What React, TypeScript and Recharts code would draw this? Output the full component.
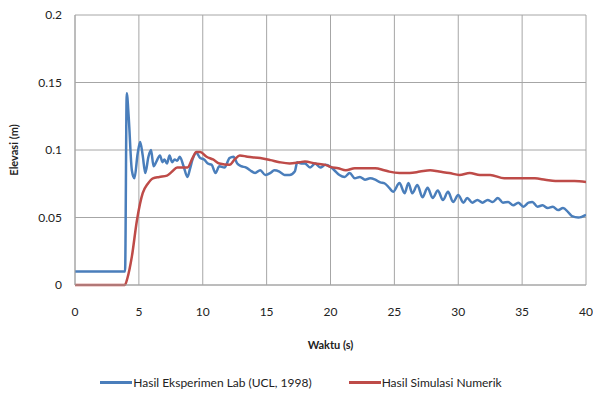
import React from "react";
import { CartesianGrid, Legend, Line, LineChart, XAxis, YAxis } from "recharts";

// Hasil Eksperimen Lab (UCL, 1998) — [waktu (s), elevasi (m)]
const LAB_TIME = [
  0, 3.92, 4.05, 4.2, 4.45, 4.65, 4.9, 5.1, 5.3, 5.5, 5.75, 5.95, 6.15, 6.4, 6.65, 6.85, 7.0, 7.2, 7.4, 7.6,
  7.8, 8.0, 8.2, 8.5, 8.8, 9.0, 9.2, 9.5, 9.8, 10.1, 10.4, 10.7, 11.0, 11.3, 11.7, 12.1, 12.4, 12.7, 13.0, 13.4,
  13.7, 14.1, 14.5, 14.9, 15.3, 15.6, 16.0, 16.4, 16.8, 17.2, 17.4, 17.7, 18.0, 18.4, 18.8, 19.2, 19.6, 20.0, 20.3, 20.7,
  21.1, 21.5, 21.9, 22.3, 22.7, 23.1, 23.5, 23.9, 24.2, 24.6, 24.9, 25.4, 25.8, 26.1, 26.4, 26.8, 27.2, 27.6, 28.0, 28.4,
  28.8, 29.2, 29.6, 30.0, 30.4, 30.7, 31.1, 31.5, 31.9, 32.3, 32.7, 33.1, 33.5, 33.9, 34.3, 34.7, 35.1, 35.5, 35.8, 36.2,
  36.6, 37.0, 37.4, 37.8, 38.2, 38.6, 38.9, 39.4, 40,
];
const LAB_ELEV = [
  0.01, 0.01, 0.142, 0.125, 0.085, 0.079, 0.097, 0.106, 0.096, 0.083, 0.095, 0.1, 0.088, 0.092, 0.096, 0.091, 0.093, 0.09, 0.096, 0.091,
  0.093, 0.092, 0.095, 0.088, 0.08, 0.086, 0.093, 0.098, 0.094, 0.093, 0.09, 0.089, 0.083, 0.088, 0.087, 0.094, 0.095, 0.09, 0.088, 0.087,
  0.085, 0.083, 0.085, 0.0815, 0.083, 0.085, 0.084, 0.0815, 0.0815, 0.084, 0.091, 0.09, 0.09, 0.087, 0.09, 0.087, 0.089, 0.0875, 0.085, 0.0815,
  0.08, 0.083, 0.079, 0.08, 0.078, 0.079, 0.078, 0.076, 0.0755, 0.072, 0.069, 0.0755, 0.068, 0.0755, 0.068, 0.074, 0.065, 0.072, 0.0645, 0.07,
  0.063, 0.069, 0.0615, 0.0667, 0.061, 0.0645, 0.061, 0.063, 0.061, 0.063, 0.0615, 0.0645, 0.061, 0.0615, 0.059, 0.061, 0.058, 0.061, 0.0615, 0.058,
  0.059, 0.057, 0.058, 0.0555, 0.057, 0.054, 0.051, 0.05, 0.052,
];

// Hasil Simulasi Numerik
const SIM_TIME = [
  0, 3.9, 4.1, 4.45, 4.85, 5.3, 5.7, 6.1, 6.6, 7.2, 7.6, 8.0, 8.8, 9.2, 9.5, 9.8, 10.3, 10.8, 11.3, 12.1,
  12.5, 12.9, 13.5, 14.5, 15.3, 16.0, 16.8, 17.6, 18.0, 18.8, 19.6, 20.0, 20.6, 21.2, 21.9, 22.7, 23.5, 24.2, 24.6, 25.4,
  26.2, 27.0, 27.8, 28.5, 29.3, 30.1, 30.9, 31.7, 32.5, 33.6, 35.0, 36.0, 36.8, 37.6, 39.1, 40,
];
const SIM_ELEV = [
  0, 0, 0.005, 0.021, 0.048, 0.068, 0.075, 0.079, 0.08, 0.081, 0.084, 0.087, 0.087, 0.094, 0.0985, 0.0985, 0.095, 0.093, 0.09, 0.089,
  0.093, 0.096, 0.095, 0.094, 0.0925, 0.091, 0.09, 0.091, 0.0915, 0.09, 0.089, 0.0875, 0.0865, 0.085, 0.0865, 0.0865, 0.0865, 0.085, 0.084, 0.083,
  0.083, 0.084, 0.085, 0.084, 0.083, 0.0815, 0.083, 0.0815, 0.0815, 0.079, 0.079, 0.079, 0.078, 0.077, 0.077, 0.0763,
];

const X_TICKS = [0, 5, 10, 15, 20, 25, 30, 35, 40];
const Y_TICKS = [0, 0.05, 0.1, 0.15, 0.2];

const labData = LAB_TIME.map((t, i) => ({ t, v: LAB_ELEV[i] }));
const simData = SIM_TIME.map((t, i) => ({ t, v: SIM_ELEV[i] }));

const FONT = "Lato, 'Open Sans', sans-serif";
const BLUE = "#4a7ebb";
const RED = "#be4b48";

function LegendRow() {
  const item = (color: string, label: string) => (
    <div style={{ display: "flex", alignItems: "center" }}>
      <div style={{ width: 32, height: 3, background: color, marginRight: 1 }} />
      <span>{label}</span>
    </div>
  );
  return (
    <div
      style={{
        display: "flex",
        justifyContent: "center",
        gap: 37,
        fontFamily: FONT,
        fontSize: 12,
        color: "#222",
        paddingLeft: 16,
        paddingTop: 7,
      }}
    >
      {item(BLUE, "Hasil Eksperimen Lab (UCL, 1998)")}
      {item(RED, "Hasil Simulasi Numerik")}
    </div>
  );
}

export default function App() {
  return (
    <div style={{ position: "absolute", left: 0, top: 0, width: 593, height: 401, background: "#fff" }}>
      <LineChart width={593} height={401} margin={{ top: 15, right: 7, left: 0, bottom: 3 }}>
        <CartesianGrid stroke="#a6a6a6" strokeWidth={1} />
        <XAxis
          type="number"
          dataKey="t"
          domain={[0, 40]}
          ticks={X_TICKS}
          allowDataOverflow
          height={83}
          tickSize={0}
          tickMargin={22}
          tickLine={false}
          axisLine={{ stroke: "#a6a6a6" }}
          tick={{ fontSize: 12, fill: "#222", fontFamily: FONT }}
          label={{ value: "Waktu (s)", position: "insideTop", offset: 56, fontSize: 11, fontWeight: 700, fill: "#222", fontFamily: FONT }}
        />
        <YAxis
          type="number"
          domain={[0, 0.2]}
          ticks={Y_TICKS}
          width={75}
          tickSize={0}
          tickMargin={13}
          tickLine={false}
          axisLine={{ stroke: "#a6a6a6" }}
          tick={{ fontSize: 12, fill: "#222", fontFamily: FONT }}
          label={{ value: "Elevasi (m)", angle: -90, position: "insideLeft", offset: 14, fontSize: 11, fontWeight: 700, fill: "#222", fontFamily: FONT, style: { textAnchor: "middle" } }}
        />
        <Legend verticalAlign="bottom" height={30} content={() => <LegendRow />} />
        <Line data={labData} dataKey="v" type="monotone" stroke={BLUE} strokeWidth={2.5} dot={false} isAnimationActive={false} name="Hasil Eksperimen Lab (UCL, 1998)" />
        <Line data={simData} dataKey="v" type="monotone" stroke={RED} strokeWidth={2.5} dot={false} isAnimationActive={false} name="Hasil Simulasi Numerik" />
      </LineChart>
    </div>
  );
}
